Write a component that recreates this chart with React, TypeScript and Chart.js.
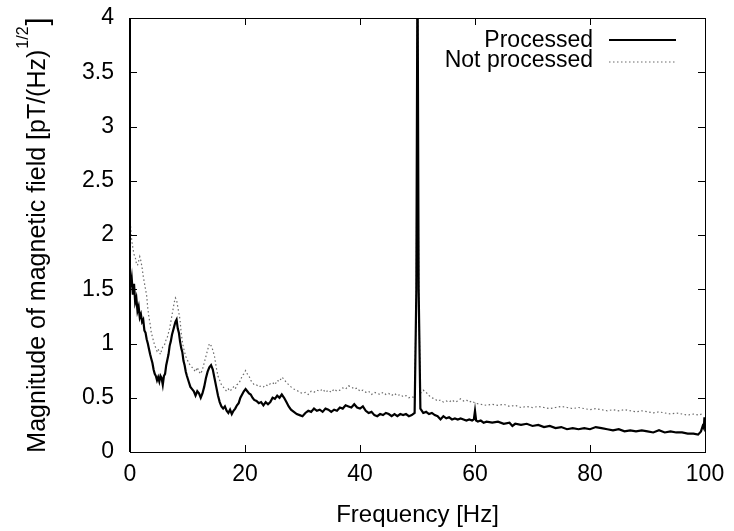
import { useEffect, useRef } from 'react';
import { Chart, registerables } from 'chart.js';

Chart.register(...registerables);

// ---- data ----
const seriesLabels = ['Processed', 'Not processed'];
const xTitle = 'Frequency [Hz]';
const yTitleMain = 'Magnitude of magnetic field [pT/(Hz)';
const yTitleSup = '1/2';
const yTitleEnd = ']';
const xTickValues = [0, 20, 40, 60, 80, 100];
const yTickValues = [0, 0.5, 1, 1.5, 2, 2.5, 3, 3.5, 4];

const freqProcessed = [
  0.1, 0.3, 0.5, 0.7, 0.9, 1.1, 1.3, 1.5, 1.7, 1.9, 2.1, 2.3, 2.5, 2.7, 2.9, 3.1, 3.3, 3.5, 3.7, 3.9,
  4.1, 4.3, 4.5, 4.7, 4.9, 5.1, 5.3, 5.5, 5.7, 5.9, 6.1, 6.3, 6.5, 6.7, 6.9, 7.1, 7.3, 7.5, 7.7, 7.9,
  8.1, 8.3, 8.5, 8.7, 8.9, 9.1, 9.3, 9.5, 9.7, 9.9, 10.2, 10.5, 10.8, 11.1, 11.4, 11.7, 12.0, 12.3, 12.6, 12.9,
  13.2, 13.5, 13.8, 14.1, 14.4, 14.7, 15.0, 15.3, 15.6, 15.9, 16.2, 16.5, 16.8, 17.1, 17.4, 17.7, 18.0, 18.3, 18.6, 18.9,
  19.2, 19.5, 19.8, 20.1, 20.4, 20.7, 21.0, 21.3, 21.6, 22.0, 22.4, 22.8, 23.2, 23.6, 24.0, 24.4, 24.8, 25.2, 25.6, 26.0,
  26.4, 26.8, 27.2, 27.6, 28.0, 28.5, 29.0, 29.5, 30.0, 30.5, 31.0, 31.5, 32.0, 32.5, 33.0, 33.5, 34.0, 34.5, 35.0, 35.5,
  36.0, 36.5, 37.0, 37.5, 38.0, 38.5, 39.0, 39.5, 40.0, 40.5, 41.0, 41.5, 42.0, 42.5, 43.0, 43.5, 44.0, 44.5, 45.0, 45.5,
  46.0, 46.5, 47.0, 47.5, 48.0, 48.5, 49.0, 49.5, 49.8, 50.0, 50.2, 50.5, 51.0, 51.5, 52.0, 52.5, 53.0, 53.5, 54.0, 54.5,
  55.0, 55.5, 56.0, 56.5, 57.0, 57.5, 58.0, 58.5, 59.0, 59.5, 59.8, 60.0, 60.2, 60.5, 61.0, 61.5, 62.0, 63.0, 64.0, 65.0,
  66.0, 66.5, 67.0, 68.0, 69.0, 70.0, 71.0, 72.0, 73.0, 74.0, 75.0, 76.0, 77.0, 78.0, 79.0, 80.0, 81.0, 82.0, 83.0, 84.0,
  85.0, 86.0, 87.0, 88.0, 89.0, 90.0, 91.0, 92.0, 93.0, 94.0, 95.0, 96.0, 97.0, 98.0, 98.8, 99.3, 99.6, 99.8, 99.9,
];
const magProcessed = [
  1.52, 1.60, 1.45, 1.55, 1.38, 1.42, 1.30, 1.34, 1.24, 1.27, 1.20, 1.22, 1.12, 1.10, 1.04, 1.00, 0.95, 0.90, 0.86, 0.82,
  0.76, 0.72, 0.70, 0.66, 0.69, 0.65, 0.70, 0.68, 0.62, 0.70, 0.72, 0.80, 0.85, 0.90, 0.98, 1.02, 1.08, 1.12, 1.16, 1.20,
  1.22, 1.14, 1.10, 1.02, 0.96, 0.92, 0.84, 0.80, 0.74, 0.70, 0.65, 0.60, 0.58, 0.56, 0.52, 0.56, 0.54, 0.50, 0.54, 0.60,
  0.68, 0.74, 0.78, 0.80, 0.76, 0.68, 0.60, 0.52, 0.46, 0.42, 0.40, 0.42, 0.38, 0.36, 0.39, 0.35, 0.38, 0.40, 0.43, 0.45,
  0.50, 0.53, 0.56, 0.58, 0.56, 0.54, 0.53, 0.50, 0.48, 0.47, 0.45, 0.46, 0.43, 0.46, 0.44, 0.46, 0.50, 0.49, 0.52, 0.50,
  0.53, 0.50, 0.46, 0.42, 0.39, 0.37, 0.35, 0.34, 0.33, 0.36, 0.38, 0.37, 0.40, 0.38, 0.39, 0.37, 0.40, 0.39, 0.37, 0.39,
  0.38, 0.41, 0.40, 0.43, 0.42, 0.41, 0.44, 0.41, 0.40, 0.42, 0.38, 0.36, 0.37, 0.34, 0.33, 0.35, 0.34, 0.36, 0.35, 0.33,
  0.35, 0.33, 0.35, 0.34, 0.35, 0.33, 0.34, 0.36, 1.5, 4.6, 1.5, 0.40, 0.36, 0.37, 0.35, 0.36, 0.34, 0.33, 0.30, 0.33,
  0.31, 0.32, 0.30, 0.31, 0.30, 0.31, 0.30, 0.29, 0.30, 0.29, 0.30, 0.38, 0.29, 0.28, 0.29, 0.27, 0.28, 0.27, 0.28, 0.26,
  0.27, 0.24, 0.26, 0.25, 0.26, 0.24, 0.25, 0.23, 0.24, 0.22, 0.23, 0.21, 0.22, 0.21, 0.22, 0.21, 0.23, 0.22, 0.21, 0.20,
  0.21, 0.19, 0.20, 0.19, 0.20, 0.19, 0.18, 0.20, 0.18, 0.19, 0.18, 0.18, 0.17, 0.17, 0.16, 0.19, 0.24, 0.22, 0.32,
];

const freqRaw = [
  0.1, 0.3, 0.5, 0.7, 0.9, 1.1, 1.3, 1.5, 1.7, 1.9, 2.1, 2.3, 2.5, 2.7, 2.9, 3.1, 3.3, 3.5, 3.7, 3.9,
  4.1, 4.3, 4.5, 4.7, 4.9, 5.1, 5.3, 5.5, 5.7, 5.9, 6.1, 6.3, 6.5, 6.7, 6.9, 7.1, 7.3, 7.5, 7.7, 7.9,
  8.1, 8.3, 8.5, 8.7, 8.9, 9.1, 9.3, 9.5, 9.7, 9.9, 10.2, 10.5, 10.8, 11.1, 11.4, 11.7, 12.0, 12.3, 12.6, 12.9,
  13.2, 13.5, 13.8, 14.1, 14.4, 14.7, 15.0, 15.3, 15.6, 15.9, 16.2, 16.5, 16.8, 17.1, 17.4, 17.7, 18.0, 18.3, 18.6, 18.9,
  19.2, 19.5, 19.8, 20.1, 20.4, 20.7, 21.0, 21.3, 21.6, 22.0, 22.4, 22.8, 23.2, 23.6, 24.0, 24.4, 24.8, 25.2, 25.6, 26.0,
  26.4, 26.8, 27.2, 27.6, 28.0, 28.5, 29.0, 29.5, 30.0, 30.5, 31.0, 31.5, 32.0, 32.5, 33.0, 33.5, 34.0, 34.5, 35.0, 35.5,
  36.0, 36.5, 37.0, 37.5, 38.0, 38.5, 39.0, 39.5, 40.0, 40.5, 41.0, 41.5, 42.0, 42.5, 43.0, 43.5, 44.0, 44.5, 45.0, 45.5,
  46.0, 46.5, 47.0, 47.5, 48.0, 48.5, 49.0, 49.5, 49.8, 50.0, 50.2, 50.5, 51.0, 51.5, 52.0, 52.5, 53.0, 53.5, 54.0, 54.5,
  55.0, 55.5, 56.0, 56.5, 57.0, 57.5, 58.0, 58.5, 59.0, 59.5, 60.0, 61.0, 62.0, 63.0, 64.0, 65.0, 66.0, 67.0, 68.0, 69.0,
  70.0, 71.0, 72.0, 73.0, 74.0, 75.0, 76.0, 77.0, 78.0, 79.0, 80.0, 81.0, 82.0, 83.0, 84.0, 85.0, 86.0, 87.0, 88.0, 89.0,
  90.0, 91.0, 92.0, 93.0, 94.0, 95.0, 96.0, 97.0, 98.0, 99.0, 99.4, 99.8,
];
const magRaw = [
  2.08, 1.95, 1.88, 1.82, 1.80, 1.74, 1.72, 1.76, 1.80, 1.76, 1.70, 1.62, 1.56, 1.50, 1.44, 1.32, 1.24, 1.18, 1.10, 1.06,
  1.02, 0.98, 0.96, 0.93, 0.95, 0.92, 0.90, 0.94, 0.97, 0.98, 1.00, 1.04, 1.06, 1.10, 1.14, 1.20, 1.26, 1.32, 1.38, 1.42,
  1.40, 1.34, 1.28, 1.22, 1.10, 1.02, 0.96, 0.92, 0.88, 0.86, 0.82, 0.80, 0.78, 0.76, 0.74, 0.78, 0.74, 0.72, 0.76, 0.82,
  0.88, 0.94, 1.00, 0.98, 0.94, 0.88, 0.78, 0.70, 0.66, 0.62, 0.60, 0.58, 0.56, 0.58, 0.56, 0.58, 0.60, 0.58, 0.62, 0.63,
  0.66, 0.70, 0.72, 0.75, 0.72, 0.70, 0.66, 0.64, 0.62, 0.62, 0.60, 0.61, 0.60, 0.62, 0.61, 0.63, 0.64, 0.62, 0.66, 0.65,
  0.69, 0.67, 0.64, 0.62, 0.60, 0.58, 0.57, 0.55, 0.54, 0.55, 0.53, 0.56, 0.55, 0.57, 0.56, 0.58, 0.55, 0.57, 0.55, 0.58,
  0.56, 0.57, 0.59, 0.58, 0.61, 0.60, 0.58, 0.59, 0.56, 0.57, 0.55, 0.56, 0.53, 0.55, 0.54, 0.53, 0.55, 0.53, 0.54, 0.52,
  0.54, 0.52, 0.53, 0.51, 0.52, 0.50, 0.51, 0.50, 1.5, 4.6, 1.5, 0.54, 0.57, 0.55, 0.52, 0.50, 0.49, 0.47, 0.48, 0.46,
  0.47, 0.46, 0.48, 0.46, 0.47, 0.49, 0.47, 0.48, 0.46, 0.47, 0.45, 0.44, 0.43, 0.44, 0.43, 0.44, 0.42, 0.43, 0.41, 0.42,
  0.41, 0.42, 0.41, 0.40, 0.41, 0.42, 0.41, 0.40, 0.41, 0.40, 0.39, 0.40, 0.39, 0.38, 0.39, 0.38, 0.39, 0.38, 0.37, 0.38,
  0.37, 0.36, 0.37, 0.36, 0.35, 0.36, 0.35, 0.34, 0.35, 0.34, 0.35, 0.36,
];

const FONT = "'Liberation Sans', Arial, Helvetica, sans-serif";

const decorPlugin = {
  id: 'decor',
  afterDatasetsDraw(chart: any) {
    const { ctx, chartArea: a, scales } = chart;
    const xs = scales.x;
    const ys = scales.y;
    ctx.save();
    // frame
    ctx.strokeStyle = '#000';
    ctx.lineWidth = 1;
    ctx.strokeRect(a.left + 0.5, a.top + 0.5, a.right - a.left, a.bottom - a.top);
    ctx.lineWidth = 2;
    ctx.beginPath();
    ctx.moveTo(a.left, a.top);
    ctx.lineTo(a.left, a.bottom);
    ctx.stroke();
    // inward ticks
    ctx.lineWidth = 1;
    const tl = 7;
    ctx.beginPath();
    xTickValues.forEach((v) => {
      const px = Math.round(xs.getPixelForValue(v)) + 0.5;
      ctx.moveTo(px, a.bottom);
      ctx.lineTo(px, a.bottom - tl);
      ctx.moveTo(px, a.top);
      ctx.lineTo(px, a.top + tl);
    });
    yTickValues.forEach((v) => {
      const py = Math.round(ys.getPixelForValue(v)) + 0.5;
      ctx.moveTo(a.left, py);
      ctx.lineTo(a.left + tl, py);
      ctx.moveTo(a.right, py);
      ctx.lineTo(a.right - tl, py);
    });
    ctx.stroke();
    ctx.restore();
  },
  afterDraw(chart: any) {
    const { ctx, chartArea: a, data } = chart;
    ctx.save();
    ctx.fillStyle = '#000';
    // legend
    ctx.font = `23px ${FONT}`;
    ctx.textAlign = 'right';
    ctx.textBaseline = 'alphabetic';
    const textRight = a.right - 112;
    const rows = [47, 67];
    const lineY = [40, 62];
    data.datasets.forEach((ds: any, i: number) => {
      ctx.fillStyle = '#000';
      ctx.fillText(ds.label, textRight, rows[i]);
      ctx.strokeStyle = ds.borderColor;
      ctx.lineWidth = ds.borderWidth;
      ctx.setLineDash(ds.borderDash || []);
      ctx.beginPath();
      ctx.moveTo(textRight + 16, lineY[i]);
      ctx.lineTo(textRight + 83, lineY[i]);
      ctx.stroke();
      ctx.setLineDash([]);
    });
    // x title
    ctx.fillStyle = '#000';
    ctx.textAlign = 'center';
    ctx.font = `24px ${FONT}`;
    ctx.fillText(xTitle, (a.left + a.right) / 2, 522);
    // y title (rotated, with superscript)
    const mainFont = `25px ${FONT}`;
    const supFont = `16px ${FONT}`;
    const endFont = `29px ${FONT}`;
    ctx.font = mainFont;
    const wMain = ctx.measureText(yTitleMain).width;
    ctx.font = supFont;
    const wSup = ctx.measureText(yTitleSup).width;
    ctx.font = endFont;
    const wEnd = ctx.measureText(yTitleEnd).width;
    const total = wMain + wSup + wEnd + 2;
    const centerY = (a.top + a.bottom) / 2;
    ctx.translate(45, centerY + total / 2);
    ctx.rotate(-Math.PI / 2);
    ctx.textAlign = 'left';
    ctx.font = mainFont;
    ctx.fillText(yTitleMain, 0, 0);
    ctx.font = supFont;
    ctx.fillText(yTitleSup, wMain + 1, -17);
    ctx.font = endFont;
    ctx.fillText(yTitleEnd, wMain + wSup + 2, 2);
    ctx.restore();
  },
};

export default function App() {
  const canvasRef = useRef<HTMLCanvasElement>(null);

  useEffect(() => {
    document.body.style.margin = '0';
    const canvas = canvasRef.current;
    if (!canvas) return;
    const chart = new Chart(canvas, {
      type: 'line',
      data: {
        datasets: [
          {
            label: seriesLabels[0],
            data: freqProcessed.map((f, i) => ({ x: f, y: magProcessed[i] })),
            borderColor: '#000000',
            borderWidth: 2.2,
            pointRadius: 0,
            tension: 0,
          },
          {
            label: seriesLabels[1],
            data: freqRaw.map((f, i) => ({ x: f, y: magRaw[i] })),
            borderColor: '#6a6a6a',
            borderWidth: 1.2,
            borderDash: [1.5, 2.5],
            pointRadius: 0,
            tension: 0,
          },
        ],
      },
      options: {
        responsive: false,
        animation: false,
        layout: { padding: { top: 18, right: 29, left: 0, bottom: 0 } },
        plugins: {
          legend: { display: false },
          tooltip: { enabled: false },
        },
        scales: {
          x: {
            type: 'linear',
            min: 0,
            max: 100,
            grid: { display: false, drawTicks: false },
            border: { display: false },
            ticks: {
              stepSize: 20,
              padding: 9,
              color: '#000',
              font: { family: FONT, size: 23 },
              maxRotation: 0,
              callback: (v: any) => String(v),
            },
            afterFit: (s: any) => {
              s.height = 79;
              s.paddingLeft = 0;
              s.paddingRight = 0;
            },
          },
          y: {
            type: 'linear',
            min: 0,
            max: 4,
            grid: { display: false, drawTicks: false },
            border: { display: false },
            ticks: {
              stepSize: 0.5,
              padding: 16,
              color: '#000',
              font: { family: FONT, size: 23 },
              callback: (v: any) => String(v),
            },
            afterFit: (s: any) => {
              s.width = 130;
              s.paddingTop = 0;
              s.paddingBottom = 0;
            },
          },
        },
      },
      plugins: [decorPlugin],
    });
    return () => chart.destroy();
  }, []);

  return (
    <div style={{ width: 734, height: 531, background: '#fff' }}>
      <canvas ref={canvasRef} width={734} height={531} />
    </div>
  );
}
